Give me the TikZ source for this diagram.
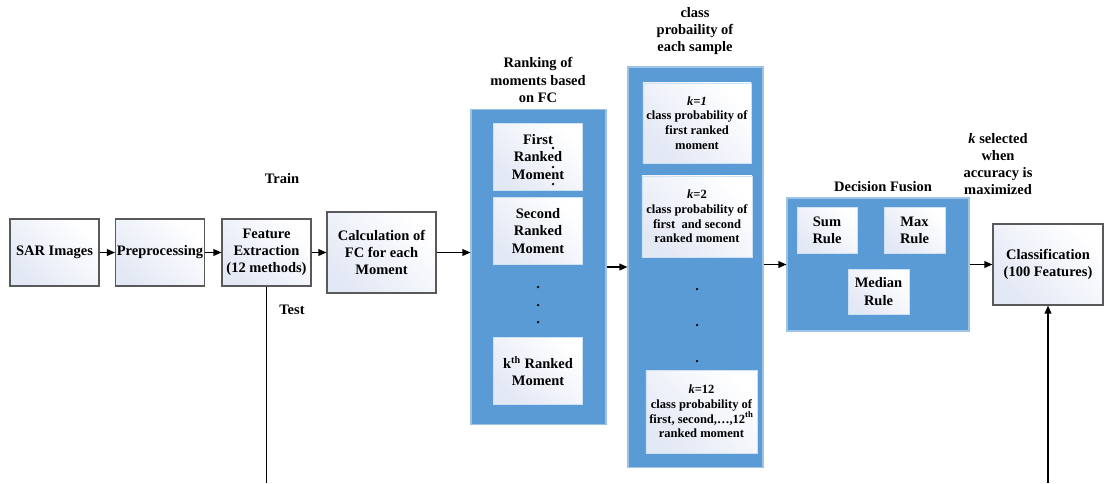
\documentclass[tikz,border=0pt]{standalone}
\usepackage{fontspec}
\setmainfont{Liberation Serif}
\usetikzlibrary{arrows.meta,positioning}
\definecolor{PanelBlue}{HTML}{5B9BD5}
\definecolor{PanelEdge}{HTML}{9DC3E6}
\definecolor{BoxEdge}{HTML}{595959}
\definecolor{Lav}{HTML}{E3E8F5}

\tikzset{
  box/.style={draw=BoxEdge,line width=0.8pt,top color=Lav,bottom color=white,shading angle=135,
    align=center,inner sep=0pt,font=\bfseries\fontsize{10.3}{12.2}\selectfont},
  subbox/.style={box,draw=PanelEdge!50!white,line width=0.5pt},
  smallbox/.style={subbox,font=\bfseries\fontsize{8.9}{10.4}\selectfont},
  panel/.style={fill=PanelBlue,draw=PanelEdge,line width=0.8pt,inner sep=0pt},
  heading/.style={align=center,inner sep=0pt,font=\bfseries\fontsize{10.3}{12.2}\selectfont},
  arr/.style={-{Triangle[length=2mm,width=1.7mm]},line width=0.9pt},
  wire/.style={line width=0.9pt}
}

\begin{document}
\begin{tikzpicture}[x=0.025cm,y=-0.025cm]
  \useasboundingbox (0,0) rectangle (1105,483);

  % main chain
  \node[box,minimum width=2.225cm,minimum height=1.675cm] (sar) at (54.5,252.5) {SAR Images};
  \node[box,minimum width=2.225cm,minimum height=1.675cm] (prep) at (160,252.5) {Preprocessing};
  \node[box,minimum width=2.225cm,minimum height=1.675cm] (feat) at (266.5,252.5) {Feature\\Extraction\\(12 methods)};
  \node[box,minimum width=2.725cm,minimum height=2.025cm] (calc) at (381.5,252.5) {Calculation of\\FC for each\\Moment};
  \node[heading] (train) at (282,179) {Train};
  \node[heading] (test) at (292,310) {Test};

  % ranking panel
  \node[panel,minimum width=3.375cm,minimum height=7.875cm] (rank) at (538.5,267) {};
  \node[heading] (rankhead) at (538,80) {Ranking of\\moments based\\on FC};
  \node[subbox,minimum width=2.225cm,minimum height=1.675cm] (first) at (538,157) {First\\Ranked\\Moment};
  \node[subbox,minimum width=2.225cm,minimum height=1.675cm] (second) at (538,231) {Second\\Ranked\\Moment};
  \node[subbox,minimum width=2.225cm,minimum height=1.675cm] (kth) at (538,371) {k\textsuperscript{th} Ranked\\Moment};
  \foreach \y in {148,167,184} \fill (553,\y) circle (0.9pt);
  \foreach \y in {287,305,322} \fill (538,\y) circle (0.9pt);

  % class probability panel
  \node[panel,minimum width=3.375cm,minimum height=10cm] (prob) at (695.5,267) {};
  \node[heading] (probhead) at (695,31) {class\\probaility of\\each sample};
  \node[smallbox,minimum width=2.7cm,minimum height=2cm] (kone) at (697,123)
    {\textit{k=1}\\class probability of\\first ranked\\moment};
  \node[smallbox,minimum width=2.75cm,minimum height=2.025cm] (ktwo) at (697,216.5)
    {\textit{k}=2\\class probability of\\first\ \ and second\\ranked moment};
  \node[smallbox,minimum width=2.775cm,minimum height=2.075cm] (ktwelve) at (701.5,411.5)
    {\textit{k}=12\\class probability of\\first, second,\ldots,12\textsuperscript{th}\\ranked moment};
  \foreach \y in {289,325,361} \fill (697,\y) circle (0.9pt);

  % decision fusion panel
  \node[panel,minimum width=4.55cm,minimum height=3.325cm] (fusion) at (878,264.5) {};
  \node[heading] (fusionhead) at (883,187) {Decision Fusion};
  \node[subbox,minimum width=1.5cm,minimum height=1.15cm] (sum) at (827,230) {Sum\\Rule};
  \node[subbox,minimum width=1.525cm,minimum height=1.15cm] (max) at (914.5,230) {Max\\Rule};
  \node[subbox,minimum width=1.525cm,minimum height=1.125cm] (median) at (878.5,291.5) {Median\\Rule};

  % classification
  \node[box,minimum width=2.75cm,minimum height=2.025cm] (cls) at (1048,264.5) {Classification\\(100 Features)};
  \node[heading] (khead) at (998,164) {\textit{k} selected\\when\\accuracy is\\maximized};

  % connectors
  \coordinate (testend) at (266.5,483);
  \coordinate (clsin) at (1048,483);
  \draw[arr] (sar) -- (prep);
  \draw[arr] (prep) -- (feat);
  \draw[arr] (feat) -- (calc);
  \draw[arr] (calc.east) -- (calc.east -| rank.west);
  \draw[arr] (rank) -- (prob);
  \draw[arr] (fusion.west -| prob.east) -- (fusion.west);
  \draw[arr] (fusion) -- (cls);
  \draw[wire] (feat.south) -- (testend);
  \draw[arr] (clsin) -- (cls.south);
\end{tikzpicture}
\end{document}
